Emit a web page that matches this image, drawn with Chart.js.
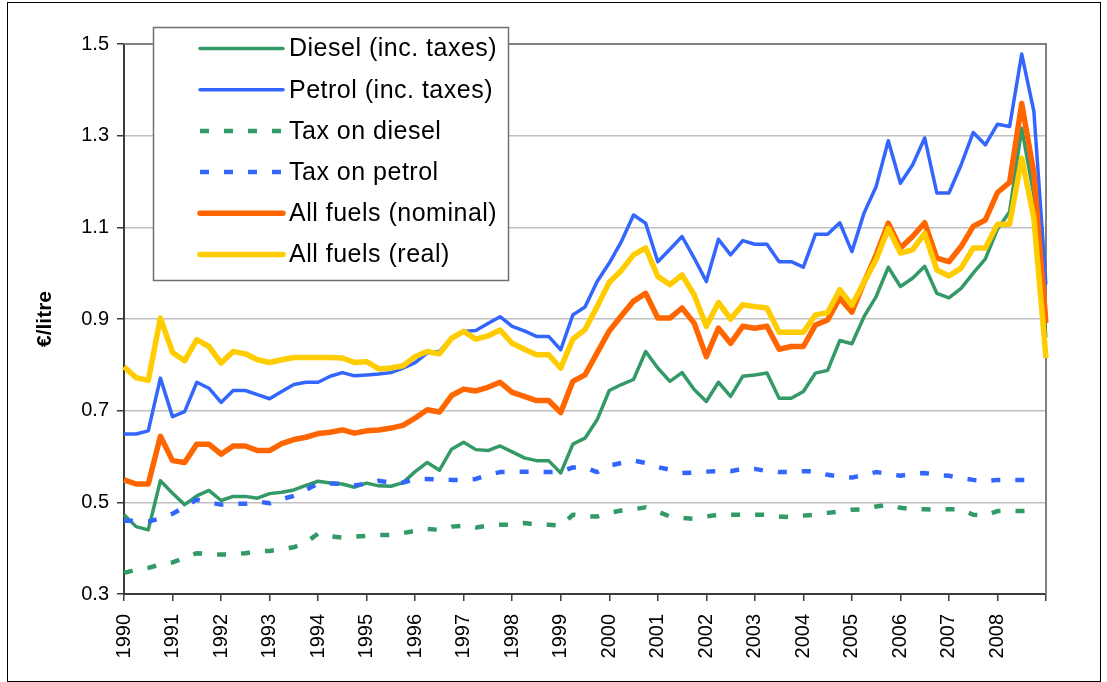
<!DOCTYPE html>
<html>
<head>
<meta charset="utf-8">
<script src="https://cdn.jsdelivr.net/npm/chart.js@4.4.1/dist/chart.umd.min.js"></script>
<style>
  html, body { margin: 0; padding: 0; background: #fff; }
  #wrap { width: 1107px; height: 682px; }
</style>
</head>
<body>
<div id="wrap"><canvas id="fuel" width="1107" height="682"></canvas></div>
<script>
// Quarterly fuel prices, 1990 Q1 .. 2009 Q1 (77 points), euro per litre
const years = [1990, 1991, 1992, 1993, 1994, 1995, 1996, 1997, 1998, 1999,
               2000, 2001, 2002, 2003, 2004, 2005, 2006, 2007, 2008];
const yTicks = [0.3, 0.5, 0.7, 0.9, 1.1, 1.3, 1.5];

const diesel = [0.473,0.447,0.440,0.547,0.520,0.495,0.514,0.526,0.504,0.513,0.513,0.509,0.519,0.522,0.527,0.537,
  0.546,0.542,0.540,0.533,0.542,0.536,0.535,0.543,0.567,0.587,0.570,0.616,0.631,0.615,0.613,0.623,
  0.610,0.597,0.591,0.591,0.564,0.627,0.640,0.680,0.744,0.757,0.768,0.829,0.793,0.764,0.783,0.746,
  0.720,0.762,0.731,0.775,0.778,0.782,0.727,0.727,0.742,0.782,0.788,0.853,0.846,0.905,0.949,1.013,
  0.971,0.989,1.015,0.956,0.946,0.967,1.000,1.031,1.096,1.134,1.316,1.170,0.860];

const petrol = [0.649,0.649,0.656,0.771,0.687,0.698,0.762,0.749,0.718,0.744,0.744,0.735,0.726,0.742,0.757,0.762,
  0.762,0.775,0.783,0.776,0.778,0.780,0.783,0.793,0.805,0.826,0.829,0.858,0.873,0.875,0.890,0.905,
  0.884,0.874,0.862,0.862,0.833,0.909,0.926,0.982,1.022,1.069,1.127,1.109,1.025,1.052,1.080,1.033,
  0.982,1.074,1.040,1.071,1.063,1.063,1.025,1.025,1.013,1.085,1.085,1.110,1.047,1.131,1.189,1.289,
  1.196,1.236,1.295,1.175,1.175,1.236,1.307,1.280,1.325,1.320,1.478,1.353,0.975];

const taxDiesel = [0.346,0.353,0.357,0.364,0.369,0.379,0.389,0.387,0.386,0.387,0.389,0.393,0.394,0.398,0.402,0.412,
  0.432,0.426,0.423,0.425,0.427,0.429,0.429,0.433,0.438,0.442,0.440,0.447,0.449,0.445,0.449,0.451,
  0.451,0.455,0.451,0.451,0.449,0.473,0.469,0.469,0.477,0.482,0.485,0.489,0.480,0.469,0.466,0.464,
  0.469,0.473,0.473,0.473,0.473,0.473,0.469,0.468,0.471,0.473,0.477,0.480,0.484,0.485,0.491,0.495,
  0.488,0.485,0.485,0.484,0.485,0.485,0.473,0.471,0.481,0.481,0.481,0.481,null];

const taxPetrol = [0.460,0.460,0.458,0.465,0.475,0.490,0.506,0.500,0.495,0.497,0.497,0.502,0.498,0.507,0.514,0.527,
  0.541,0.541,0.540,0.537,0.541,0.547,0.543,0.543,0.551,0.551,0.550,0.549,0.549,0.551,0.560,0.566,
  0.566,0.567,0.567,0.566,0.567,0.576,0.576,0.566,0.580,0.586,0.591,0.586,0.577,0.571,0.564,0.565,
  0.567,0.568,0.568,0.573,0.573,0.568,0.566,0.566,0.568,0.568,0.560,0.556,0.554,0.560,0.566,0.562,
  0.558,0.562,0.564,0.559,0.558,0.553,0.549,0.546,0.549,0.549,0.549,0.549,null];

const allNominal = [0.549,0.540,0.540,0.644,0.591,0.587,0.627,0.627,0.605,0.623,0.623,0.613,0.613,0.628,0.637,0.642,
  0.650,0.653,0.658,0.651,0.656,0.658,0.662,0.668,0.684,0.702,0.697,0.733,0.747,0.743,0.751,0.762,
  0.740,0.731,0.722,0.722,0.696,0.764,0.778,0.826,0.874,0.907,0.939,0.956,0.902,0.902,0.924,0.891,
  0.818,0.880,0.847,0.884,0.880,0.884,0.834,0.840,0.840,0.887,0.898,0.946,0.915,0.980,1.040,1.109,
  1.055,1.080,1.110,1.033,1.025,1.058,1.102,1.116,1.176,1.198,1.370,1.218,0.891];

const allReal = [0.796,0.772,0.766,0.902,0.827,0.809,0.855,0.840,0.804,0.829,0.824,0.811,0.805,0.811,0.816,0.816,
  0.816,0.816,0.815,0.805,0.807,0.791,0.793,0.798,0.818,0.829,0.824,0.858,0.873,0.856,0.863,0.876,
  0.847,0.834,0.822,0.822,0.793,0.856,0.877,0.927,0.980,1.006,1.040,1.055,0.993,0.975,0.996,0.953,
  0.884,0.936,0.900,0.931,0.927,0.924,0.871,0.871,0.871,0.909,0.914,0.964,0.930,0.980,1.030,1.098,
  1.044,1.051,1.087,1.007,0.994,1.011,1.055,1.055,1.107,1.107,1.251,1.120,0.815];

// one category per quarter, year label on the first quarter
const labels = [];
for (let i = 0; i < diesel.length; i++) {
  labels.push(i % 4 === 0 && years[i / 4] ? String(years[i / 4]) : '');
}

const FONT = "'Liberation Sans', Arial, sans-serif";
const AXIS = '#3c3c3c';

function ds(label, data, color, width, dash, order) {
  return { label, data, borderColor: color, backgroundColor: color, borderWidth: width,
    borderDash: dash, pointRadius: 0, tension: 0, fill: false, order,
    borderCapStyle: 'butt', borderJoinStyle: 'round', spanGaps: false };
}

const datasets = [
  ds('Diesel (inc. taxes)', diesel, '#339966', 3.5, [], 6),
  ds('Petrol (inc. taxes)', petrol, '#3366FF', 3.5, [], 5),
  ds('Tax on diesel', taxDiesel, '#339966', 4.5, [9, 15], 4),
  ds('Tax on petrol', taxPetrol, '#3366FF', 4.5, [9, 15], 3),
  ds('All fuels (nominal)', allNominal, '#FF6600', 5.5, [], 2),
  ds('All fuels (real)', allReal, '#FFCC00', 5.5, [], 1)
];

// frame of the plot area (top + right) and of the whole picture
const framePlugin = {
  id: 'frame',
  beforeDatasetsDraw(chart) {
    const { ctx, chartArea: a } = chart;
    ctx.save();
    ctx.strokeStyle = '#808080';
    ctx.lineWidth = 2;
    ctx.beginPath();
    ctx.moveTo(a.left, a.top);
    ctx.lineTo(a.right, a.top);
    ctx.lineTo(a.right, a.bottom);
    ctx.stroke();
    ctx.restore();
  },
  afterDraw(chart) {
    const ctx = chart.ctx;
    ctx.save();
    ctx.strokeStyle = '#000';
    ctx.lineWidth = 1;
    ctx.strokeRect(7.5, 2.5, 1093, 679);
    ctx.restore();
  }
};

// boxed legend in the upper left corner
const legendBox = {
  id: 'legendBox',
  afterDraw(chart) {
    const ctx = chart.ctx;
    const x0 = 153.5, y0 = 27.5, w = 355, h = 253;
    ctx.save();
    ctx.fillStyle = '#fff';
    ctx.fillRect(x0, y0, w, h);
    ctx.strokeStyle = '#707070';
    ctx.lineWidth = 1.5;
    ctx.strokeRect(x0, y0, w, h);
    ctx.font = '25px ' + FONT;
    ctx.letterSpacing = '0.5px';
    ctx.textBaseline = 'middle';
    ctx.fillStyle = '#000';
    chart.data.datasets.forEach((d, i) => {
      const y = 48.5 + i * 41.2;
      ctx.strokeStyle = d.borderColor;
      ctx.lineWidth = d.borderWidth;
      ctx.setLineDash(d.borderDash || []);
      ctx.lineCap = d.borderDash && d.borderDash.length ? 'butt' : 'round';
      ctx.beginPath();
      ctx.moveTo(200, y);
      ctx.lineTo(283, y);
      ctx.stroke();
      ctx.setLineDash([]);
      ctx.fillText(d.label, 289, y + 1);
    });
    ctx.restore();
  }
};

new Chart(document.getElementById('fuel'), {
  type: 'line',
  data: { labels, datasets },
  plugins: [framePlugin, legendBox],
  options: {
    responsive: false,
    animation: false,
    layout: { padding: { left: 0, top: 44, right: 61, bottom: 0 } },
    plugins: { legend: { display: false }, tooltip: { enabled: false } },
    scales: {
      x: {
        type: 'category',
        offset: false,
        afterFit: s => { s.height = 88; },
        border: { color: AXIS, width: 2 },
        grid: {
          drawOnChartArea: false, drawTicks: true, tickLength: 7, lineWidth: 1.5,
          tickColor: c => (c.index % 4 === 0 ? AXIS : 'rgba(0,0,0,0)')
        },
        ticks: {
          autoSkip: false, minRotation: 90, maxRotation: 90, padding: 13,
          color: '#000', font: { family: FONT, size: 20 }
        }
      },
      y: {
        min: 0.3, max: 1.5,
        afterBuildTicks: s => { s.ticks = yTicks.map(v => ({ value: v })); },
        afterFit: s => { s.width = 124; },
        border: { color: AXIS, width: 2 },
        grid: {
          tickLength: 7, lineWidth: 1.5, tickColor: AXIS,
          color: c => (Math.abs(c.tick.value - 0.3) < 1e-6 || Math.abs(c.tick.value - 1.5) < 1e-6) ? 'rgba(0,0,0,0)' : '#c0c0c0'
        },
        ticks: {
          padding: 8, color: '#000', font: { family: FONT, size: 20 },
          callback: v => Number(v).toFixed(1)
        },
        title: {
          display: true, text: '€/litre', color: '#000',
          font: { family: FONT, size: 21, weight: 'bold' },
          padding: { top: 33, bottom: 0 }
        }
      }
    }
  }
});
</script>
</body>
</html>
